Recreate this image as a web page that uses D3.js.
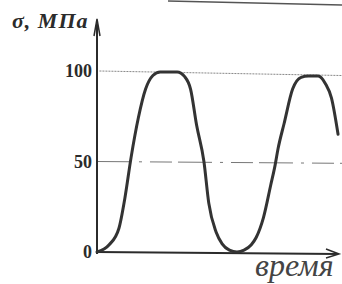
<!DOCTYPE html>
<html>
<head>
<meta charset="utf-8">
<script src="https://cdn.jsdelivr.net/npm/d3@7"></script>
<style>
  body { margin: 0; background: #fff; }
  svg { display: block; }
  text { font-family: "Liberation Serif", "DejaVu Serif", serif; }
</style>
</head>
<body>
<svg width="342" height="284"></svg>
<script>
// time (arbitrary units, no ticks on the axis) and stress in MPa
let times  = [0, 5, 9, 11.5, 14, 17, 20, 23, 26, 33, 36, 38.5, 41, 44, 46, 49, 51.5, 54.5, 57.6, 60.5, 63.5, 65.5, 68.5, 71.5, 73.3, 74.5, 77, 80.5, 84, 87, 91, 94, 96.5, 99.2];
let sigmas = [0, 4, 13, 30, 52, 74, 90, 97.5, 99.5, 99.5, 97, 90, 70, 50, 27, 11, 4.5, 1, 0, 1, 4, 8, 19, 37, 48, 57, 71, 90, 96.5, 97.2, 97.2, 93, 85, 65];
let yTicks = [0, 50, 100];
let yTitle = "σ, МПа";
let xTitle = "время";

let svg = d3.select("svg");
let ink = "#2b2b2b";

let xScale = d3.scaleLinear().domain([0, 100]).range([97, 340]);
let yScale = d3.scaleLinear().domain([0, 100]).range([252, 71]);

// scan edge at the top
svg.append("line")
    .attr("x1", 168).attr("y1", 1)
    .attr("x2", 342).attr("y2", 5)
    .attr("stroke", "#555").attr("stroke-width", 1.5);

// reference lines
svg.append("line")
    .attr("x1", xScale(1)).attr("x2", 342)
    .attr("y1", yScale(100)).attr("y2", yScale(97.5))
    .attr("stroke", "#888").attr("stroke-width", 1)
    .attr("stroke-dasharray", "2,1");

svg.append("line")
    .attr("x1", xScale(0)).attr("x2", 342)
    .attr("y1", yScale(50)).attr("y2", yScale(49))
    .attr("stroke", "#777").attr("stroke-width", 1)
    .attr("stroke-dasharray", "34,8,3,8,22,6");

// axes
let yAxis = d3.axisLeft(yScale)
    .tickValues(yTicks)
    .tickSize(0)
    .tickPadding(5);
let gy = svg.append("g")
    .attr("transform", "translate(" + xScale(0) + ",0)")
    .call(yAxis);
gy.select(".domain").remove();
gy.selectAll("text")
    .attr("font-family", null)
    .attr("font-weight", "bold")
    .attr("font-size", 18)
    .attr("fill", ink);

svg.append("line")
    .attr("x1", xScale(0)).attr("y1", yScale(0) + 2)
    .attr("x2", xScale(0)).attr("y2", 24)
    .attr("stroke", ink).attr("stroke-width", 2);
svg.append("path")
    .attr("d", d3.line()([[xScale(0) - 3, 36], [xScale(0), 19], [xScale(0) + 3, 36]]))
    .attr("fill", "none").attr("stroke", ink).attr("stroke-width", 1.5);

svg.append("line")
    .attr("x1", xScale(0) - 1).attr("y1", yScale(0))
    .attr("x2", 338).attr("y2", yScale(0) + 2)
    .attr("stroke", ink).attr("stroke-width", 2.2);
svg.append("path")
    .attr("d", d3.line()([[326, yScale(0) - 3], [339, yScale(0) + 2], [326, yScale(0) + 6]]))
    .attr("fill", "none").attr("stroke", ink).attr("stroke-width", 1.5);

// titles
svg.append("text")
    .attr("x", 12).attr("y", 28)
    .attr("font-style", "italic")
    .attr("font-weight", "bold")
    .attr("font-size", 22)
    .attr("letter-spacing", 1)
    .attr("fill", ink)
    .text(yTitle);

svg.append("text")
    .attr("x", 255).attr("y", 276)
    .attr("font-style", "italic")
    .attr("font-size", 32)
    .attr("fill", "#444")
    .text(xTitle);

// stress curve
let pts = times.map((t, i) => [t, sigmas[i]]);
svg.append("path")
    .datum(pts)
    .attr("d", d3.line()
        .x(d => xScale(d[0]))
        .y(d => yScale(d[1]))
        .curve(d3.curveMonotoneX))
    .attr("fill", "none")
    .attr("stroke", "#333")
    .attr("stroke-width", 3)
    .attr("stroke-linecap", "round");
</script>
</body>
</html>
